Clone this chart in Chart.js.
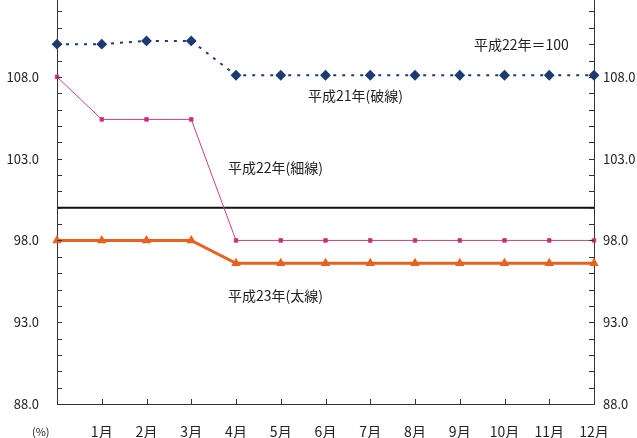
<!DOCTYPE html>
<html>
<head>
<meta charset="utf-8">
<script src="https://cdn.jsdelivr.net/npm/chart.js@4.4.1/dist/chart.umd.min.js"></script>
<style>
  html, body { margin: 0; padding: 0; background: #fff; }
  #wrap { width: 637px; height: 438px; position: relative; }
</style>
</head>
<body>
<div id="wrap"><canvas id="c" width="637" height="438"></canvas></div>
<script>
// 月別指数（平成22年＝100）
const months = ['', '1月', '2月', '3月', '4月', '5月', '6月', '7月', '8月', '9月', '10月', '11月', '12月'];
const h21 = [110.0, 110.0, 110.2, 110.2, 108.1, 108.1, 108.1, 108.1, 108.1, 108.1, 108.1, 108.1, 108.1];
const h22 = [108.0, 105.4, 105.4, 105.4, 98.0, 98.0, 98.0, 98.0, 98.0, 98.0, 98.0, 98.0, 98.0];
const h23 = [98.0, 98.0, 98.0, 98.0, 96.6, 96.6, 96.6, 96.6, 96.6, 96.6, 96.6, 96.6, 96.6];
const base = [100, 100, 100, 100, 100, 100, 100, 100, 100, 100, 100, 100, 100];
const yLabels = [88, 93, 98, 103, 108];

const FONT = '"Liberation Sans Narrow", "Noto Sans CJK JP", sans-serif';

// 軸の内向き目盛りと注記
const decor = {
  id: 'decor',
  afterDraw(chart) {
    const ctx = chart.ctx;
    const x = chart.scales.x, y = chart.scales.y;
    const area = chart.chartArea;
    ctx.save();
    ctx.strokeStyle = '#333';
    ctx.lineWidth = 1;
    ctx.beginPath();
    for (let v = 89; v <= 112; v++) {
      const py = Math.round(y.getPixelForValue(v)) + 0.5;
      ctx.moveTo(area.left, py); ctx.lineTo(area.left + 5, py);
      ctx.moveTo(area.right, py); ctx.lineTo(area.right - 5, py);
    }
    for (let i = 1; i < months.length - 1; i++) {
      const px = Math.round(x.getPixelForValue(i)) + 0.5;
      ctx.moveTo(px, area.bottom); ctx.lineTo(px, area.bottom - 5);
    }
    ctx.stroke();

    ctx.fillStyle = '#222';
    ctx.font = '14px ' + FONT;
    ctx.textBaseline = 'middle';
    ctx.textAlign = 'left';
    ctx.fillText('平成22年＝100', 474, 45);
    ctx.fillText('平成21年(破線)', 308, 96);
    ctx.fillText('平成22年(細線)', 228, 168);
    ctx.fillText('平成23年(太線)', 228, 296);
    ctx.font = '11px ' + FONT;
    ctx.fillText('(%)', 32, 432);
    ctx.restore();
  }
};

const yTicks = {
  min: 88,
  max: 112.7,
  afterBuildTicks(scale) {
    scale.ticks = yLabels.map(v => ({ value: v }));
  },
  border: { color: '#333', width: 1 },
  grid: { display: false, drawTicks: false },
};

function fixWidth(w) {
  return scale => {
    scale.width = w;
    scale.paddingTop = 0;
    scale.paddingBottom = 0;
  };
}

new Chart(document.getElementById('c'), {
  type: 'line',
  data: {
    labels: months,
    datasets: [
      {
        data: h21,
        borderColor: '#1d3b73',
        backgroundColor: '#1d3b73',
        borderWidth: 2,
        borderDash: [3, 6],
        pointStyle: 'rectRot',
        pointRadius: 4,
        tension: 0
      },
      {
        data: h22,
        borderColor: '#c9407f',
        backgroundColor: '#d0237a',
        borderWidth: 1,
        pointStyle: 'rect',
        pointRadius: 2.5,
        tension: 0
      },
      {
        data: h23,
        borderColor: '#e5621f',
        backgroundColor: '#e5621f',
        borderWidth: 3,
        pointStyle: 'triangle',
        pointRadius: 2.5,
        tension: 0
      },
      {
        data: base,
        borderColor: '#111',
        borderWidth: 2,
        pointRadius: 0,
        tension: 0
      }
    ]
  },
  options: {
    responsive: false,
    animation: false,
    layout: { padding: 0, autoPadding: false },
    plugins: { legend: { display: false }, tooltip: { enabled: false } },
    scales: {
      x: {
        offset: false,
        border: { color: '#333', width: 1 },
        grid: { display: false, drawTicks: false },
        ticks: { color: '#222', font: { family: FONT, size: 14 }, padding: 19, maxRotation: 0, autoSkip: false },
        afterFit(scale) { scale.height = 34; scale.paddingLeft = 0; scale.paddingRight = 0; }
      },
      y: {
        position: 'left',
        ...yTicks,
        ticks: {
          color: '#222', font: { family: FONT, size: 13 }, padding: 18,
          callback: v => v.toFixed(1)
        },
        afterFit: fixWidth(57)
      },
      y2: {
        position: 'right',
        ...yTicks,
        ticks: {
          color: '#222', font: { family: FONT, size: 13 }, padding: 9,
          callback: v => v.toFixed(1)
        },
        afterFit: fixWidth(43)
      }
    }
  },
  plugins: [decor]
});
</script>
</body>
</html>
